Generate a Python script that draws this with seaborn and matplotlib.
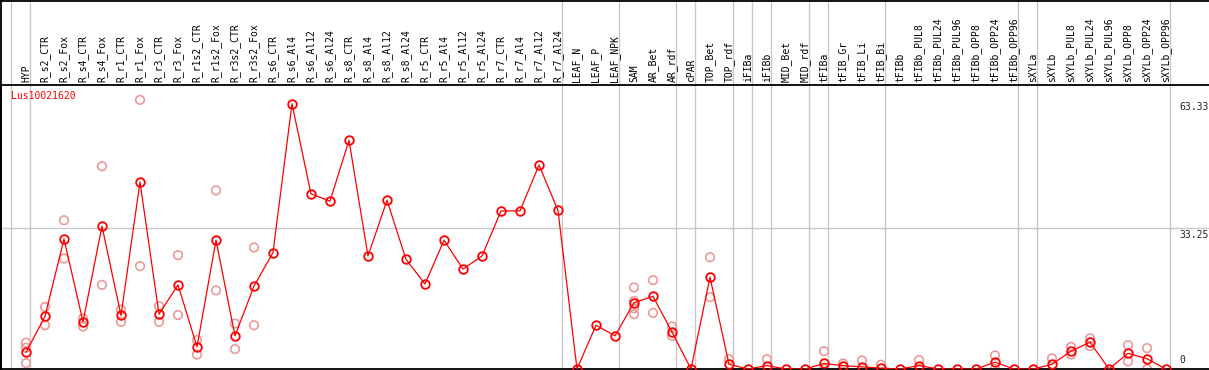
import numpy as np
import pandas as pd
import matplotlib
matplotlib.use("Agg")
import matplotlib.pyplot as plt
from matplotlib.lines import Line2D
import seaborn as sns

samples = ["HYP", "R_s2_CTR", "R_s2_Fox", "R_s4_CTR", "R_s4_Fox", "R_r1_CTR", "R_r1_Fox",
           "R_r3_CTR", "R_r3_Fox", "R_r1s2_CTR", "R_r1s2_Fox", "R_r3s2_CTR", "R_r3s2_Fox",
           "R_s6_CTR", "R_s6_Al4", "R_s6_Al12", "R_s6_Al24", "R_s8_CTR", "R_s8_Al4",
           "R_s8_Al12", "R_s8_Al24", "R_r5_CTR", "R_r5_Al4", "R_r5_Al12", "R_r5_Al24",
           "R_r7_CTR", "R_r7_Al4", "R_r7_Al12", "R_r7_Al24", "LEAF_N", "LEAF_P", "LEAF_NPK",
           "SAM", "AR_Bet", "AR_rdf", "cPAR", "TOP_Bet", "TOP_rdf", "iFIBa", "iFIBb",
           "MID_Bet", "MID_rdf", "tFIBa", "tFIB_Gr", "tFIB_Li", "tFIB_Bi", "tFIBb",
           "tFIBb_PUL8", "tFIBb_PUL24", "tFIBb_PUL96", "tFIBb_OPP8", "tFIBb_OPP24",
           "tFIBb_OPP96", "sXYLa", "sXYLb", "sXYLb_PUL8", "sXYLb_PUL24", "sXYLb_PUL96",
           "sXYLb_OPP8", "sXYLb_OPP24", "sXYLb_OPP96"]

means = [3.9, 12.4, 30.6, 11.1, 33.6, 12.6, 44.0, 12.9, 19.8, 5.2, 30.3, 7.8, 19.5,
         27.4, 62.4, 41.2, 39.5, 53.8, 26.6, 39.7, 25.8, 20.0, 30.3, 23.5, 26.6,
         37.2, 37.2, 48.0, 37.3, 0.0, 10.3, 7.8, 15.6, 17.1, 8.7, 0.0, 21.6, 1.1,
         0.0, 0.8, 0.0, 0.0, 1.3, 0.8, 0.5, 0.2, 0.0, 0.8, 0.0, 0.0, 0.0, 1.6, 0.0,
         0.0, 1.1, 4.2, 6.3, 0.0, 3.7, 2.4, 0.0]

replicates = {
    "HYP": [6.2, 5.0, 1.4], "R_s2_CTR": [14.6, 10.3], "R_s2_Fox": [35.0, 26.0],
    "R_s4_CTR": [11.9, 10.0], "R_s4_Fox": [47.7, 19.8], "R_r1_CTR": [14.0, 11.1],
    "R_r1_Fox": [63.33, 24.2], "R_r3_CTR": [14.8, 11.1], "R_r3_Fox": [26.8, 12.7],
    "R_r1s2_CTR": [6.8, 3.4], "R_r1s2_Fox": [42.0, 18.5], "R_r3s2_CTR": [10.7, 4.7],
    "R_r3s2_Fox": [28.6, 10.3], "SAM": [19.2, 16.0, 14.3, 12.9], "AR_Bet": [20.9, 13.2],
    "AR_rdf": [10.0, 7.8], "TOP_Bet": [26.3, 16.9], "TOP_rdf": [2.3], "iFIBb": [2.3],
    "tFIBa": [4.2, 0.0], "tFIB_Gr": [1.3], "tFIB_Li": [2.0], "tFIB_Bi": [1.0],
    "tFIBb_PUL8": [2.1, 0.0], "tFIBb_OPP24": [3.2, 0.0], "sXYLb": [2.5],
    "sXYLb_PUL8": [5.2, 3.4], "sXYLb_PUL24": [7.2, 5.4], "sXYLb_OPP8": [5.6, 1.8],
    "sXYLb_OPP24": [4.9, 0.0],
}

# last sample of each group (separator drawn just after it)
group_ends = ["HYP", "R_r7_Al24", "LEAF_NPK", "AR_rdf", "cPAR", "TOP_rdf", "iFIBa",
              "iFIBb", "MID_rdf", "tFIBa", "tFIB_Bi", "tFIBb_OPP96", "sXYLa", "sXYLb_OPP96"]

gene = "Lus10021620"
scale_ticks = [63.33, 33.25, 0]

df = pd.DataFrame({"pos": np.arange(len(samples)), "sample": samples, "value": means})
rep_df = pd.DataFrame([(samples.index(s), v) for s, vals in replicates.items() for v in vals],
                      columns=["pos", "value"])

sns.set_style("white")
plt.rcParams["font.family"] = ["DejaVu Sans Mono", "DejaVu Sans"]

W, H = 1209, 370
fig = plt.figure(figsize=(W / 100, H / 100), dpi=100)
ax_top, ax_bot = 85, 369
ax = fig.add_axes([1 / W, (H - ax_bot) / H, (W - 1) / W, (ax_bot - ax_top) / H])

red = "#ff0000"
pink = "#eb9a9a"
grey = "#c8c8c8"

ax.axhline(33.25, color=grey, lw=1, zorder=0)
ext = (H - ax_bot + ax_bot) / (ax_bot - ax_top)
for s in group_ends:
    ax.axvline(samples.index(s) + 0.22, ymin=-0.01, ymax=ext, color=grey, lw=1,
               clip_on=False, zorder=0)
ax.axvline(-0.78, ymin=-0.01, ymax=ext, color=grey, lw=1, clip_on=False, zorder=0)

sns.scatterplot(data=rep_df, x="pos", y="value", ax=ax, marker="o", s=38,
                facecolor="none", edgecolor=pink, linewidth=1.2, zorder=2)
sns.lineplot(data=df, x="pos", y="value", ax=ax, color=red, lw=0.9, marker="o",
             markersize=6.2, markerfacecolor="none", markeredgecolor=red,
             markeredgewidth=1.3, zorder=3)

px_per_unit = 4.25
ax.set_xlim((1 - 26) / 19, (W - 26) / 19)
ax.set_ylim(0, (ax_bot - ax_top) / px_per_unit)
ax.set_xticks([])
ax.set_yticks([])
ax.set_xlabel("")
ax.set_ylabel("")
for side in ["left", "top", "bottom"]:
    ax.spines[side].set_color("black")
    ax.spines[side].set_linewidth(1.3)
ax.spines["right"].set_visible(False)

ytr = ax.get_xaxis_transform()
for i, s in enumerate(samples):
    ax.text(i, 1 + 2.5 / (ax_bot - ax_top), s, transform=ytr, rotation=90,
            ha="center", va="bottom", fontsize=7, color="black")

ax.text(10 / (W - 1), 1 - 6 / (ax_bot - ax_top), gene, transform=ax.transAxes,
        ha="left", va="top", fontsize=7, color=red)

lx = (1179 - 26) / 19
for v in scale_ticks:
    if v == 0:
        ax.text(lx, 1.0, "0", ha="left", va="bottom", fontsize=7)
    else:
        ax.text(lx, v - 0.6, f"{v:.2f}", ha="left", va="top", fontsize=7)

fig.add_artist(Line2D([0, 1], [1 - 0.6 / H, 1 - 0.6 / H], color="black", lw=1.3))
fig.add_artist(Line2D([0.6 / W, 0.6 / W], [0, 1], color="black", lw=1.3))

fig.savefig("out.png", dpi=100)
